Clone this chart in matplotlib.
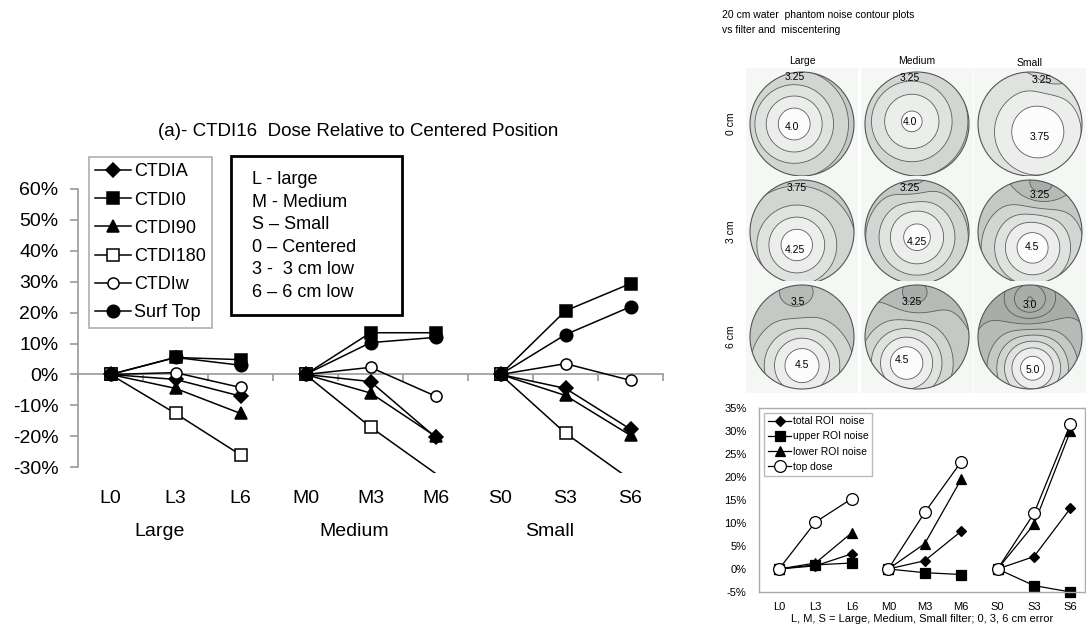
import numpy as np
import matplotlib.pyplot as plt
import matplotlib.transforms as mtransforms
from matplotlib.patches import Circle, Rectangle
from matplotlib.lines import Line2D

plt.rcParams['font.family'] = ['Liberation Sans', 'DejaVu Sans']

W, H = 1086, 634

# ---- left chart: CTDI16 dose relative to centered position ----
positions = ['L0', 'L3', 'L6', 'M0', 'M3', 'M6', 'S0', 'S3', 'S6']
groups = ['Large', 'Medium', 'Small']
ctdi_a = [0, -0.016, -0.07, 0, -0.023, -0.203, 0, -0.045, -0.177]
ctdi_0 = [0, 0.055, 0.048, 0, 0.135, 0.135, 0, 0.206, 0.294]
ctdi_90 = [0, -0.045, -0.126, 0, -0.06, -0.20, 0, -0.068, -0.197]
ctdi_180 = [0, -0.126, -0.26, 0, -0.17, -0.32, 0, -0.19, -0.34]
ctdi_w = [0, 0.006, -0.042, 0, 0.023, -0.07, 0, 0.035, -0.019]
surf_top = [0, 0.055, 0.03, 0, 0.103, 0.12, 0, 0.129, 0.219]
key_lines = ['L - large', 'M - Medium', 'S \u2013 Small', '0 \u2013 Centered',
             '3 -  3 cm low', '6 \u2013 6 cm low']

# ---- right chart: noise vs filter and miscentering ----
total_noise = [0, 0.007, 0.033, 0, 0.018, 0.082, 0, 0.027, 0.132]
upper_noise = [0, 0.009, 0.013, 0, -0.008, -0.012, 0, -0.036, -0.05]
lower_noise = [0, 0.013, 0.079, 0, 0.055, 0.195, 0, 0.097, 0.30]
top_dose = [0, 0.102, 0.153, 0, 0.123, 0.233, 0, 0.121, 0.315]

# ---- contour panels (row: 0, 3, 6 cm; column: Large, Medium, Small) ----
col_names = ['Large', 'Medium', 'Small']
row_names = ['0 cm', '3 cm', '6 cm']
noise_base = [3.05, 3.0, 3.05, 3.4, 3.2, 3.5, 3.55, 3.45, 3.7]
hot_amp = [1.1, 1.05, 0.9, 1.0, 1.15, 1.15, 1.15, 1.25, 1.45]
hot_x = [-0.15, -0.1, 0.15, -0.1, 0.0, 0.05, 0.0, -0.2, 0.05]
hot_y = [0.0, 0.05, -0.15, -0.25, -0.1, -0.3, -0.55, -0.5, -0.6]
hot_w = [0.8, 0.9, 1.0, 0.75, 0.85, 0.8, 0.75, 0.75, 0.7]
cold_amp = [0.0, 0.0, 0.2, 0.0, 0.25, 0.45, 0.2, 0.35, 0.75]
cold_x = [0.0, 0.0, 0.4, 0.0, -0.1, 0.2, -0.1, -0.05, 0.0]
cold_y = [0.0, 0.0, 0.95, 0.0, 1.0, 0.85, 0.75, 0.8, 0.7]
cold_w = [0.35, 0.35, 0.35, 0.35, 0.35, 0.45, 0.35, 0.4, 0.45]
panel_labels = [
    [('3.25', -0.13, 0.90), ('4.0', -0.19, -0.06)],
    [('3.25', -0.13, 0.88), ('4.0', -0.13, 0.04)],
    [('3.25', 0.23, 0.85), ('3.75', 0.19, -0.25)],
    [('3.75', -0.10, 0.85), ('4.25', -0.13, -0.35)],
    [('3.25', -0.13, 0.85), ('4.25', 0.0, -0.2)],
    [('3.25', 0.19, 0.72), ('4.5', 0.04, -0.29)],
    [('3.5', -0.08, 0.67), ('4.5', 0.0, -0.54)],
    [('3.25', -0.10, 0.67), ('4.5', -0.29, -0.44)],
    [('3.0', 0.0, 0.62), ('5.0', 0.06, -0.63)],
]
col_cx = [802, 917, 1030]
row_cy = [124, 232, 337]


def fig_rect(x0, y0, x1, y1):
    return [x0 / W, 1 - y1 / H, (x1 - x0) / W, (y1 - y0) / H]


fig = plt.figure(figsize=(W / 100, H / 100), dpi=100)

# ================= left chart =================
ax = fig.add_axes(fig_rect(78, 189, 663, 473.4))
series = [
    (ctdi_a, 'CTDIA', 'D', 'black', 7.5),
    (ctdi_0, 'CTDI0', 's', 'black', 9),
    (ctdi_90, 'CTDI90', '^', 'black', 9),
    (ctdi_180, 'CTDI180', 's', 'white', 8),
    (ctdi_w, 'CTDIw', 'o', 'white', 8),
    (surf_top, 'Surf Top', 'o', 'black', 9),
]
handles = []
for vals, label, marker, face, ms in series:
    for g in range(3):
        xs = np.arange(3 * g, 3 * g + 3)
        ys = np.array(vals[3 * g:3 * g + 3])
        ax.plot(xs, ys, color='black', lw=1.1, zorder=3)
        keep = ys >= -0.3
        ax.plot(xs[keep], ys[keep], ls='none', marker=marker, mfc=face,
                mec='black', ms=ms, mew=1.1, zorder=4, clip_on=False)
    handles.append(Line2D([], [], color='black', lw=1.1, marker=marker,
                          mfc=face, mec='black', ms=ms, mew=1.1, label=label))

ax.set_xlim(-0.5, 8.5)
ax.set_ylim(-0.32, 0.6)
for s in ['top', 'right']:
    ax.spines[s].set_visible(False)
ax.spines['left'].set_bounds(-0.3, 0.6)
ax.spines['bottom'].set_position(('data', 0))
for s in ['left', 'bottom']:
    ax.spines[s].set_color('#999999')
    ax.spines[s].set_linewidth(1.2)
yt = np.round(np.arange(-0.3, 0.61, 0.1), 2)
ax.set_yticks(yt)
ax.set_yticklabels([f'{v * 100:.0f}%' for v in yt])
ax.set_xticks(np.arange(-0.5, 8.6, 1.0))
ax.tick_params(axis='x', direction='out', length=5, color='#999999',
               width=1.2, labelbottom=False)
ax.tick_params(axis='y', direction='out', length=6, color='#999999',
               width=1.2, labelsize=14, pad=8)
tr = mtransforms.blended_transform_factory(ax.transData, ax.transAxes)
for i, lab in enumerate(positions):
    ax.text(i, -0.0865, lab, transform=tr, ha='center', va='center', fontsize=14)
for g, lab in enumerate(groups):
    ax.text(3 * g + 0.75, -0.205, lab, transform=tr, ha='center', va='center',
            fontsize=14)

fig.text(358 / W, 1 - 131 / H, '(a)- CTDI16  Dose Relative to Centered Position',
         ha='center', va='center', fontsize=13.5)

leg = fig.legend(handles=handles, loc='upper left',
                 bbox_to_anchor=(89 / W, 1 - 157 / H), fontsize=13,
                 frameon=True, fancybox=False, edgecolor='#999999',
                 handlelength=2.0, handletextpad=0.15, labelspacing=0.62,
                 borderpad=0.35, borderaxespad=0)
leg.get_frame().set_linewidth(1.2)

fig.add_artist(Rectangle((231 / W, 1 - 315 / H), 171 / W, 159 / H,
                         transform=fig.transFigure, facecolor='white',
                         edgecolor='black', lw=2))
fig.text(252 / W, 1 - 171 / H, '\n'.join(key_lines), ha='left', va='top',
         fontsize=13, linespacing=1.43)

# ================= contour panels =================
fig.text(722 / W, 1 - 15 / H, '20 cm water  phantom noise contour plots',
         ha='left', va='center', fontsize=7.5)
fig.text(722 / W, 1 - 30 / H, 'vs filter and  miscentering',
         ha='left', va='center', fontsize=7.5)
for c, name in enumerate(col_names):
    fig.text(col_cx[c] / W, 1 - (61 if c < 2 else 63) / H, name,
             ha='center', va='center', fontsize=7.5)
for r, name in enumerate(row_names):
    fig.text(731 / W, 1 - row_cy[r] / H, name, ha='center', va='center',
             rotation=90, fontsize=7.5)

levels = np.arange(2.25, 6.01, 0.25)
grays = ['#fbfcfb', '#eceeec', '#dfe2df', '#d2d6d2', '#c5c9c5', '#b7bbb7', '#a9ada9']
grid = np.linspace(-1.1, 1.1, 221)
X, Y = np.meshgrid(grid, grid)
for r in range(3):
    for c in range(3):
        k = 3 * r + c
        cx, cy = col_cx[c], row_cy[r]
        pax = fig.add_axes(fig_rect(cx - 56, cy - 56, cx + 56, cy + 56))
        pax.set_facecolor('#f5f7f5')
        pax.set_xlim(-1.077, 1.077)
        pax.set_ylim(-1.077, 1.077)
        pax.set_xticks([])
        pax.set_yticks([])
        for s in pax.spines.values():
            s.set_visible(False)
        V = (noise_base[k]
             + hot_amp[k] * np.exp(-((X - hot_x[k]) ** 2 + (Y - hot_y[k]) ** 2) / hot_w[k] ** 2)
             - cold_amp[k] * np.exp(-((X - cold_x[k]) ** 2 + (Y - cold_y[k]) ** 2) / cold_w[k] ** 2))
        kmax = np.searchsorted(levels, V.max()) - 1
        colors = [grays[min(max(kmax - b, 0), len(grays) - 1)]
                  for b in range(len(levels) - 1)]
        circ = Circle((0, 0), 1, transform=pax.transData)
        cf = pax.contourf(X, Y, V, levels=levels, colors=colors)
        cf.set_clip_path(circ)
        cl = pax.contour(X, Y, V, levels=levels, colors='#5a5a5a', linewidths=0.6)
        cl.set_clip_path(circ)
        pax.add_patch(Circle((0, 0), 1, fill=False, ec='#555555', lw=0.8))
        for txt, lx, ly in panel_labels[k]:
            pax.text(lx, ly, txt, ha='center', va='center', fontsize=7.5)

# ================= right chart =================
ax2 = fig.add_axes(fig_rect(759, 408, 1085, 592))
series2 = [
    (total_noise, 'total ROI  noise', 'D', 'black', 5.5),
    (upper_noise, 'upper ROI noise', 's', 'black', 6.5),
    (lower_noise, 'lower ROI noise', '^', 'black', 7),
    (top_dose, 'top dose', 'o', 'white', 8.5),
]
handles2 = []
for vals, label, marker, face, ms in series2:
    for g in range(3):
        xs = np.arange(3 * g, 3 * g + 3)
        ax2.plot(xs, vals[3 * g:3 * g + 3], color='black', lw=0.9,
                 marker=marker, mfc=face, mec='black', ms=ms, mew=0.9,
                 clip_on=False)
    handles2.append(Line2D([], [], color='black', lw=0.9, marker=marker,
                           mfc=face, mec='black', ms=ms, mew=0.9, label=label))
ax2.set_xlim(-0.55, 8.4)
ax2.set_ylim(-0.05, 0.35)
yt2 = np.round(np.arange(-0.05, 0.351, 0.05), 2)
ax2.set_yticks(yt2)
ax2.set_yticklabels([f'{v * 100:.0f}%' for v in yt2])
ax2.set_xticks(range(9))
ax2.set_xticklabels(positions)
ax2.tick_params(axis='both', length=0, labelsize=8)
ax2.tick_params(axis='y', pad=9)
ax2.tick_params(axis='x', pad=7)
for s in ax2.spines.values():
    s.set_color('#aaaaaa')
    s.set_linewidth(1.0)
ax2.set_xlabel('L, M, S = Large, Medium, Small filter; 0, 3, 6 cm error',
               fontsize=8, labelpad=2)
leg2 = ax2.legend(handles=handles2, loc='upper left',
                  bbox_to_anchor=(0.015, 0.975), fontsize=7.5, frameon=True,
                  fancybox=False, edgecolor='#aaaaaa', handlelength=2.3,
                  handletextpad=0.1, labelspacing=0.5, borderpad=0.35,
                  borderaxespad=0)

fig.savefig('out.png', dpi=100, facecolor='white')
